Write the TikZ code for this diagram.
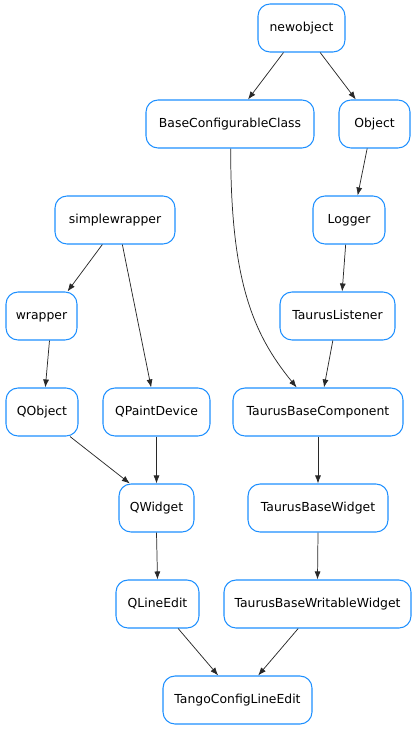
\documentclass[tikz,border=0pt]{standalone}
\usepackage{fontspec}
\setmainfont{DejaVu Sans}
\usetikzlibrary{arrows.meta}
\definecolor{nodeblue}{RGB}{30,144,255}
\definecolor{edgegray}{RGB}{40,40,40}
\tikzset{
  box/.style={draw=nodeblue, line width=0.8pt, rounded corners=9pt, fill=white,
    minimum height=36pt, inner sep=0pt, text height=6.8pt, text depth=1.4pt,
    font=\fontsize{9.3}{11}\selectfont},
  bw/.style={minimum width=#1*0.75pt},
  edge/.style={draw=edgegray, line width=0.55pt, -{Latex[length=6pt,width=4.5pt]}}
}
\begin{document}
\begin{tikzpicture}[x=0.75pt,y=-0.75pt]
\useasboundingbox (0,0) rectangle (417,731);
\node[box,bw=87] (newobject) at (301.5,28) {newobject};
\node[box,bw=168] (bcc) at (230,124) {BaseConfigurableClass};
\node[box,bw=71] (object) at (374.5,124) {Object};
\node[box,bw=120] (simplewrapper) at (115,220) {simplewrapper};
\node[box,bw=72] (logger) at (349,220) {Logger};
\node[box,bw=71] (wrapper) at (41.5,316) {wrapper};
\node[box,bw=115] (listener) at (337.5,316) {TaurusListener};
\node[box,bw=72] (qobject) at (42,412) {QObject};
\node[box,bw=107] (qpaint) at (156.5,412) {QPaintDevice};
\node[box,bw=170] (tbc) at (318,412) {TaurusBaseComponent};
\node[box,bw=75] (qwidget) at (156.5,508) {QWidget};
\node[box,bw=140] (tbw) at (318,508) {TaurusBaseWidget};
\node[box,bw=83] (qlineedit) at (157.5,604) {QLineEdit};
\node[box,bw=187] (tbww) at (317.5,604) {TaurusBaseWritableWidget};
\node[box,bw=149] (tangocle) at (237.5,700) {TangoConfigLineEdit};

\draw[edge] ([xshift=-13.5pt]newobject.south) -- ([xshift=13.5pt]bcc.north);
\draw[edge] ([xshift=14pt]newobject.south) -- ([xshift=-14pt]object.north);
\draw[edge] ([xshift=-5.5pt]object.south) -- ([xshift=6.5pt]logger.north);
\draw[edge] ([xshift=-2.5pt]logger.south) -- ([xshift=3.5pt]listener.north);
\draw[edge] ([xshift=-3.5pt]listener.south) -- ([xshift=4.5pt]tbc.north);
\draw[edge] ([xshift=0.5pt]bcc.south) .. controls +(0,130) and +(-45,-55) .. ([xshift=-16pt]tbc.north);
\draw[edge] ([xshift=-9.5pt]simplewrapper.south) -- ([xshift=19.5pt]wrapper.north);
\draw[edge] ([xshift=5.5pt]simplewrapper.south) -- ([xshift=-4pt]qpaint.north);
\draw[edge] ([xshift=6pt]wrapper.south) -- ([xshift=2.5pt]qobject.north);
\draw[edge] ([xshift=21pt]qobject.south) -- ([xshift=-20pt]qwidget.north);
\draw[edge] (qpaint.south) -- (qwidget.north);
\draw[edge] (tbc.south) -- (tbw.north);
\draw[edge] (qwidget.south) -- (qlineedit.north);
\draw[edge] (tbw.south) -- (tbww.north);
\draw[edge] ([xshift=15.5pt]qlineedit.south) -- ([xshift=-14.5pt]tangocle.north);
\draw[edge] ([xshift=-14.5pt]tbww.south) -- ([xshift=15.5pt]tangocle.north);
\end{tikzpicture}
\end{document}
